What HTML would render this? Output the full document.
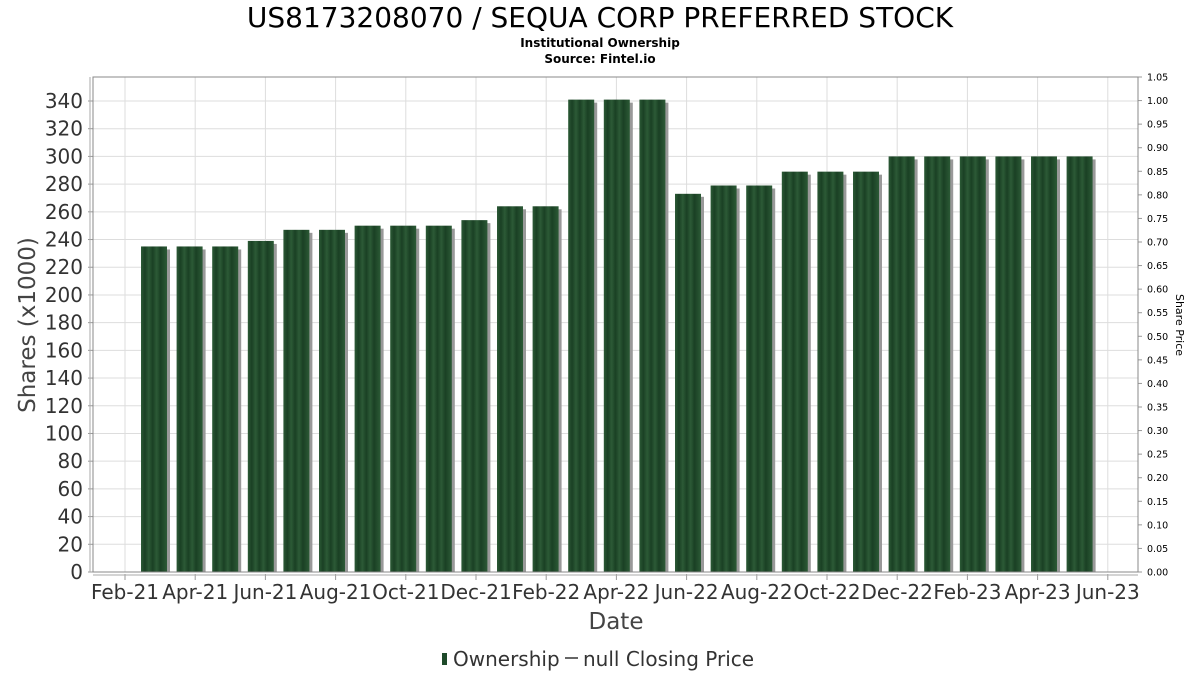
<!DOCTYPE html>
<html><head><meta charset="utf-8"><style>
body{margin:0;background:#fff;font-family:"DejaVu Sans","Liberation Sans",sans-serif;}
svg{display:block}
</style></head><body>
<svg id="c" width="1200" height="675" xmlns="http://www.w3.org/2000/svg">
<text x="600" y="27" text-anchor="middle" font-size="28" fill="#000">US8173208070 / SEQUA CORP PREFERRED STOCK</text>
<text x="600" y="47" text-anchor="middle" font-size="12" font-weight="bold" fill="#000">Institutional Ownership</text>
<text x="600" y="63" text-anchor="middle" font-size="12" font-weight="bold" fill="#000">Source: Fintel.io</text>
<g id="grid"></g>
<g id="bars"></g>
<g id="axes"></g>
<text x="0" y="0" transform="translate(35,325) rotate(-90)" text-anchor="middle" font-size="23" fill="#444">Shares (x1000)</text>
<text x="0" y="0" transform="translate(1176,325) rotate(90)" text-anchor="middle" font-size="11" fill="#000">Share Price</text>
<text x="616" y="629" text-anchor="middle" font-size="23" fill="#444">Date</text>
<g>
<rect x="442" y="653" width="5" height="12" fill="#1e4a2a"/>
<text x="453" y="666" font-size="20" fill="#333">Ownership</text>
<line x1="565" y1="658" x2="578" y2="658" stroke="#333" stroke-width="1.5"/>
<text x="583" y="666" font-size="20" fill="#333">null Closing Price</text>
</g>
</svg>
<script>
const values=[235,235,235,239,247,247,250,250,250,254,264,264,341,341,341,273,279,279,289,289,289,300,300,300,300,300,300];
const xLabels=["Feb-21","Apr-21","Jun-21","Aug-21","Oct-21","Dec-21","Feb-22","Apr-22","Jun-22","Aug-22","Oct-22","Dec-22","Feb-23","Apr-23","Jun-23"];
const yTicks=[0,20,40,60,80,100,120,140,160,180,200,220,240,260,280,300,320,340];
const y2Ticks=[0,0.05,0.1,0.15,0.2,0.25,0.3,0.35,0.4,0.45,0.5,0.55,0.6,0.65,0.7,0.75,0.8,0.85,0.9,0.95,1.0,1.05];
const NS="http://www.w3.org/2000/svg";
const L=93,R=1138,T=77,B=572;
const y=v=>B-v*(B-101)/340;
const y2=v=>B-v*(B-T)/1.05;
const xt=i=>125+i*70.2;
const xb=i=>154+i*35.6;
function mk(p,tag,a){const e=document.createElementNS(NS,tag);for(const k in a)e.setAttribute(k,a[k]);p.appendChild(e);return e;}
const g=document.getElementById('grid'),b=document.getElementById('bars'),ax=document.getElementById('axes');
mk(g,'rect',{x:L,y:T,width:R-L,height:B-T,fill:'#fff'});
yTicks.forEach(v=>{
 const l=mk(g,'line',{x1:L,x2:R,y1:y(v),y2:y(v),stroke:'#ddd'});
 
 
 const t=mk(ax,'text',{x:L-10,y:y(v)+7,'text-anchor':'end','font-size':20,fill:'#333'});t.textContent=v;
 
 
 mk(ax,'line',{x1:L-5,x2:L,y1:y(v),y2:y(v),stroke:'#999'});
});
xLabels.forEach((s,i)=>{
 const l=mk(g,'line',{x1:xt(i),x2:xt(i),y1:T,y2:B,stroke:'#ddd'});
 
 
 mk(ax,'line',{x1:xt(i),x2:xt(i),y1:B+2,y2:B+8,stroke:'#999'});
 const t=mk(ax,'text',{x:xt(i),y:599,'text-anchor':'middle','font-size':20,fill:'#333'});t.textContent=s;
 
 
});
y2Ticks.forEach(v=>{
 mk(ax,'line',{x1:R,x2:R+4,y1:y2(v),y2:y2(v),stroke:'#999'});
 const t=mk(ax,'text',{x:R+9,y:y2(v)+3.5,'font-size':9.5,fill:'#000'});t.textContent=v.toFixed(2);
 
 
});
const defs=mk(b,'defs',{});
const gr=mk(defs,'linearGradient',{id:'bg',x1:0,x2:1,y1:0,y2:0});
[[0,'#2c5a36'],[0.15,'#1a4024'],[0.3,'#2c5a36'],[0.45,'#1a4024'],[0.6,'#2c5a36'],[0.75,'#1a4024'],[1,'#2c5a36']].forEach(([o,c])=>mk(gr,'stop',{offset:o,'stop-color':c}));
values.forEach((v,i)=>{
 const cx=xb(i),w=26;
 mk(b,'rect',{x:cx-w/2+3,y:y(v)+3,width:w,height:B-y(v)-3,fill:'#999'});
 const r=mk(b,'rect',{x:cx-w/2,y:y(v),width:w,height:B-y(v),fill:'url(#bg)'});
 
 
});
mk(ax,'rect',{x:L,y:T,width:R-L,height:B-T,fill:'none',stroke:'#888'});
mk(ax,'line',{x1:L-3,x2:L-3,y1:T,y2:B,stroke:'#aaa'});
mk(ax,'line',{x1:L,x2:R,y1:B+3,y2:B+3,stroke:'#aaa'});
</script>
</body></html>
